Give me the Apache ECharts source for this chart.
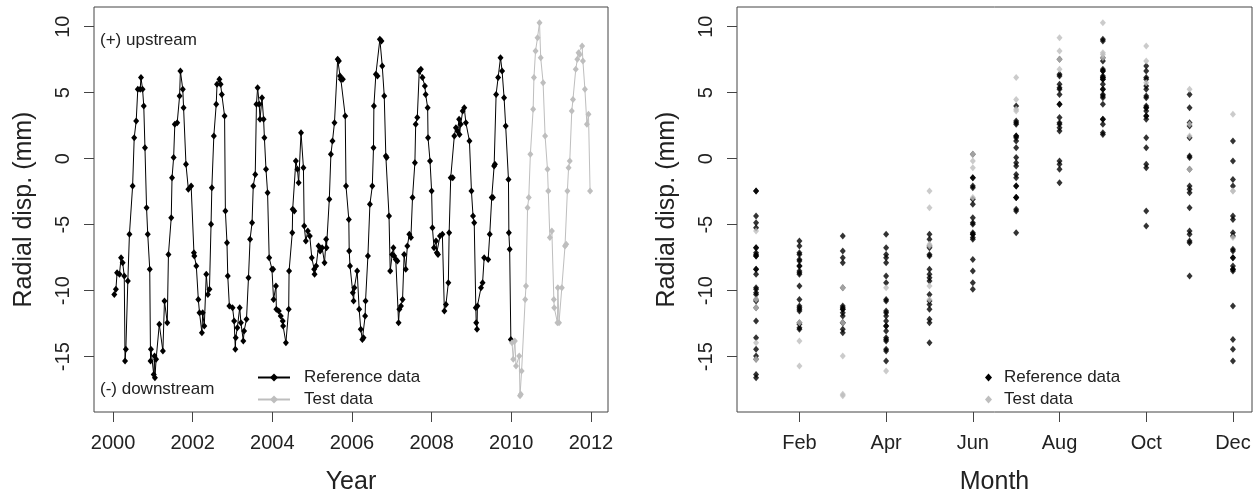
<!DOCTYPE html>
<html>
<head>
<meta charset="utf-8">
<script src="https://cdn.jsdelivr.net/npm/echarts@6/dist/echarts.min.js"></script>
<style>
  html, body { margin: 0; padding: 0; background: #fff; }
  #main { width: 1260px; height: 497px; }
</style>
</head>
<body>
<div id="main"></div>
<script>
// Reference data (2000-2010): decimal year and radial displacement (mm)
var refTime = [
  2000.03, 2000.07, 2000.10, 2000.16, 2000.20, 2000.24, 2000.28, 2000.30, 2000.32, 2000.37,
  2000.41, 2000.49, 2000.53, 2000.58, 2000.62, 2000.68, 2000.70, 2000.74, 2000.77, 2000.80,
  2000.84, 2000.87, 2000.92, 2000.94, 2000.95, 2001.02, 2001.04, 2001.05, 2001.08, 2001.16,
  2001.25, 2001.29, 2001.36, 2001.39, 2001.46, 2001.48, 2001.52, 2001.55, 2001.61, 2001.67,
  2001.69, 2001.75, 2001.77, 2001.83, 2001.89, 2001.96, 2002.03, 2002.04, 2002.09, 2002.14,
  2002.17, 2002.23, 2002.25, 2002.29, 2002.34, 2002.38, 2002.42, 2002.46, 2002.48, 2002.53,
  2002.59, 2002.61, 2002.67, 2002.70, 2002.73, 2002.80, 2002.82, 2002.86, 2002.88, 2002.92,
  2003.00, 2003.04, 2003.07, 2003.08, 2003.12, 2003.18, 2003.21, 2003.27, 2003.29, 2003.35,
  2003.40, 2003.44, 2003.49, 2003.52, 2003.57, 2003.60, 2003.63, 2003.67, 2003.69, 2003.74,
  2003.78, 2003.80, 2003.84, 2003.88, 2003.92, 2003.99, 2004.02, 2004.03, 2004.09, 2004.10,
  2004.16, 2004.21, 2004.26, 2004.27, 2004.34, 2004.41, 2004.42, 2004.50, 2004.51, 2004.55,
  2004.59, 2004.63, 2004.66, 2004.72, 2004.78, 2004.80, 2004.84, 2004.89, 2004.94, 2004.99,
  2005.05, 2005.06, 2005.10, 2005.16, 2005.20, 2005.25, 2005.31, 2005.35, 2005.36, 2005.43,
  2005.47, 2005.51, 2005.56, 2005.64, 2005.67, 2005.70, 2005.72, 2005.77, 2005.83, 2005.85,
  2005.92, 2005.93, 2005.95, 2006.02, 2006.04, 2006.06, 2006.13, 2006.18, 2006.22, 2006.26,
  2006.29, 2006.33, 2006.34, 2006.40, 2006.45, 2006.51, 2006.54, 2006.55, 2006.60, 2006.64,
  2006.70, 2006.74, 2006.76, 2006.81, 2006.85, 2006.87, 2006.93, 2006.96, 2007.01, 2007.04,
  2007.06, 2007.10, 2007.14, 2007.17, 2007.19, 2007.23, 2007.27, 2007.31, 2007.35, 2007.39,
  2007.44, 2007.48, 2007.52, 2007.58, 2007.60, 2007.64, 2007.69, 2007.73, 2007.77, 2007.83,
  2007.85, 2007.90, 2007.91, 2007.96, 2008.00, 2008.02, 2008.06, 2008.11, 2008.13, 2008.16,
  2008.21, 2008.27, 2008.32, 2008.36, 2008.42, 2008.44, 2008.48, 2008.53, 2008.57, 2008.61,
  2008.65, 2008.69, 2008.70, 2008.73, 2008.78, 2008.82, 2008.86, 2008.95, 2009.00, 2009.04,
  2009.07, 2009.11, 2009.12, 2009.14, 2009.15, 2009.24, 2009.28, 2009.32, 2009.42, 2009.46,
  2009.51, 2009.54, 2009.57, 2009.59, 2009.62, 2009.67, 2009.73, 2009.77, 2009.82, 2009.86,
  2009.93, 2009.94, 2009.96, 2009.99
];
var refDisp = [
  -10.28, -9.90, -8.64, -8.76, -7.50, -7.88, -8.89, -15.33, -14.44, -9.27,
  -5.73, -2.07, 1.59, 2.85, 5.25, 5.25, 6.14, 5.25, 3.99, 0.83,
  -3.71, -5.73, -8.38, -15.33, -14.44, -16.34, -14.95, -16.59, -15.20, -12.55,
  -14.57, -10.78, -12.42, -7.25, -4.47, -1.44, 0.08, 2.60, 2.73, 4.75,
  6.64, 5.25, 3.86, -0.43, -2.32, -2.07, -7.12, -7.37, -8.13, -10.66,
  -11.67, -13.18, -11.67, -12.68, -8.76, -10.28, -9.90, -4.97, -2.20, 1.72,
  4.12, 5.63, 6.01, 5.63, 4.87, 3.23, -3.96, -6.36, -8.89, -11.16,
  -11.29, -12.30, -14.44, -13.56, -12.80, -11.29, -12.42, -13.81, -13.06, -12.17,
  -9.02, -6.11, -4.85, -2.07, -1.19, 4.12, 5.38, 4.12, 2.98, 4.62,
  2.98, 1.59, -0.81, -2.58, -7.50, -8.38, -8.38, -10.66, -9.65, -11.41,
  -11.54, -11.92, -12.30, -12.68, -13.94, -11.41, -8.51, -5.61, -3.84, -3.96,
  -0.18, -0.81, -1.82, 1.97, -0.68, -5.10, -6.24, -5.48, -5.86, -7.50,
  -8.38, -8.76, -8.13, -6.62, -6.99, -6.74, -7.88, -6.11, -6.74, -3.08,
  0.33, 1.34, 2.73, 7.53, 7.40, 6.26, 6.01, 6.01, 3.23, -2.07,
  -4.60, -6.99, -8.13, -10.15, -10.78, -9.77, -8.51, -11.41, -12.93, -13.69,
  -13.56, -11.92, -10.78, -7.37, -3.46, -2.07, 0.83, 3.99, 6.39, 6.26,
  9.04, 8.91, 7.02, 4.75, 0.20, 0.08, -4.34, -8.51, -7.25, -6.74,
  -7.37, -7.63, -7.75, -12.42, -11.41, -11.16, -10.66, -7.25, -8.38, -6.62,
  -5.73, -5.98, -2.95, -0.30, 2.60, 3.11, 6.64, 6.77, 6.14, 5.51,
  4.87, 3.86, 1.59, -0.18, -2.45, -5.23, -6.74, -6.24, -7.12, -7.25,
  -5.86, -5.73, -11.54, -11.04, -9.39, -5.61, -1.44, -1.44, 1.72, 2.35,
  2.10, 2.98, 1.84, 2.60, 3.61, 3.86, 2.73, 1.34, -2.45, -4.34,
  -4.85, -11.29, -12.42, -12.93, -11.16, -9.77, -9.39, -7.50, -7.63, -5.73,
  -2.95, -2.95, -0.56, -0.43, 4.87, 6.14, 7.65, 6.64, 4.62, 2.47,
  -1.57, -5.61, -6.87, -13.69
];

// Test data (2010-2012)
var testTime = [
  2010.02, 2010.05, 2010.09, 2010.12, 2010.20, 2010.22, 2010.24, 2010.26, 2010.35, 2010.37,
  2010.41, 2010.44, 2010.48, 2010.55, 2010.57, 2010.61, 2010.66, 2010.71, 2010.74, 2010.80,
  2010.85, 2010.91, 2010.93, 2010.97, 2011.02, 2011.07, 2011.08, 2011.16, 2011.17, 2011.20,
  2011.27, 2011.35, 2011.38, 2011.41, 2011.44, 2011.47, 2011.52, 2011.55, 2011.62, 2011.66,
  2011.69, 2011.72, 2011.78, 2011.80, 2011.85, 2011.90, 2011.94, 2011.98
];
var testDisp = [
  -13.94, -15.20, -13.81, -15.71, -14.95, -17.95, -17.85, -16.09, -10.66, -9.65,
  -3.71, -2.95, 0.33, 3.74, 6.14, 8.16, 9.17, 10.30, 7.65, 5.76,
  1.72, -0.81, -2.45, -5.98, -5.48, -10.66, -11.29, -12.42, -9.77, -12.42,
  -9.77, -6.62, -6.49, -2.45, -0.68, -0.18, 3.61, 4.49, 6.77, 7.53,
  8.03, 7.90, 8.54, 7.40, 5.25, 2.60, 3.36, -2.45
];

var yearTicks = [2000, 2002, 2004, 2006, 2008, 2010, 2012];
var monthTicks = [2, 4, 6, 8, 10, 12];
var monthNames = ['Jan', 'Feb', 'Mar', 'Apr', 'May', 'Jun', 'Jul', 'Aug', 'Sep', 'Oct', 'Nov', 'Dec'];
var dispTicks = [-15, -10, -5, 0, 5, 10];

var FONT = 'Liberation Sans';
var INK = '#222';
var BOX = '#444';
var GREY = '#bebebe';

/**
 * @name byYear
 * @desc pair decimal years with displacement values
 */
function byYear(times, values) {
  var i, out = [];
  for (i = 0; i < times.length; i++) {
    out.push([times[i], values[i]]);
  }
  return out;
}

/**
 * @name byMonth
 * @desc put every observation on its calendar month (1..12)
 */
function byMonth(times, values) {
  var i, frac, out = [];
  for (i = 0; i < times.length; i++) {
    frac = times[i] - Math.floor(times[i]);
    out.push([Math.floor(frac * 12 + 1e-9) + 1, values[i]]);
  }
  return out;
}

function xAxisFor(grid, min, max, ticks, fmt, name) {
  return {
    gridIndex: grid, type: 'value', min: min, max: max,
    axisLine: { show: false, onZero: false },
    splitLine: { show: false },
    axisTick: { show: true, length: 10, customValues: ticks, lineStyle: { color: BOX, width: 1 } },
    axisLabel: { customValues: ticks, formatter: fmt, fontSize: 20, color: INK, fontFamily: FONT, margin: 21 },
    name: name, nameLocation: 'middle', nameGap: 58,
    nameTextStyle: { fontSize: 25, color: INK, fontFamily: FONT }
  };
}

function yAxisFor(grid) {
  return {
    gridIndex: grid, type: 'value', min: -19.19, max: 11.49,
    axisLine: { show: false, onZero: false },
    splitLine: { show: false },
    axisTick: { show: true, length: 10, customValues: dispTicks, lineStyle: { color: BOX, width: 1 } },
    axisLabel: { customValues: dispTicks, rotate: 90, fontSize: 20, color: INK, fontFamily: FONT, margin: 21 },
    name: 'Radial disp. (mm)', nameLocation: 'middle', nameGap: 57,
    nameTextStyle: { fontSize: 25, color: INK, fontFamily: FONT }
  };
}

var myChart = echarts.init(document.getElementById('main'), null, { renderer: 'canvas' });

var option = {
  animation: false,
  backgroundColor: '#fff',
  grid: [
    { left: 94, top: 7, width: 514, height: 405, show: true, borderColor: BOX, borderWidth: 1,
      backgroundColor: 'transparent', outerBoundsMode: 'none' },
    { left: 737, top: 7, width: 515, height: 405, show: true, borderColor: BOX, borderWidth: 1,
      backgroundColor: 'transparent', outerBoundsMode: 'none' }
  ],
  xAxis: [
    xAxisFor(0, 1999.52, 2012.43, yearTicks, function (v) { return String(v); }, 'Year'),
    xAxisFor(1, 0.56, 12.44, monthTicks, function (v) { return monthNames[v - 1]; }, 'Month')
  ],
  yAxis: [yAxisFor(0), yAxisFor(1)],
  legend: [
    {
      data: ['Reference data', 'Test data'],
      orient: 'vertical', left: 257, top: 369, padding: 0,
      itemWidth: 32, itemHeight: 10, itemGap: 5,
      selectedMode: false,
      textStyle: { fontSize: 17, color: INK, fontFamily: FONT, padding: [0, 0, 0, 9] }
    },
    {
      data: [{ name: 'Reference data', icon: 'diamond' }, { name: 'Test data', icon: 'diamond' }],
      orient: 'vertical', left: 985, top: 369, padding: 0,
      itemWidth: 7, itemHeight: 8, itemGap: 5,
      selectedMode: false,
      textStyle: { fontSize: 17, color: INK, fontFamily: FONT, padding: [0, 0, 0, 7] }
    }
  ],
  graphic: [
    { type: 'text', left: 100, top: 32, style: { text: '(+) upstream', font: '17px "Liberation Sans"', fill: INK } },
    { type: 'text', left: 100, top: 381, style: { text: '(-) downstream', font: '17px "Liberation Sans"', fill: INK } }
  ],
  series: [
    {
      name: 'Reference data', type: 'line', xAxisIndex: 0, yAxisIndex: 0,
      data: byYear(refTime, refDisp),
      symbol: 'diamond', symbolSize: [6, 7], showSymbol: true, showAllSymbol: true,
      itemStyle: { color: '#000' }, lineStyle: { color: '#000', width: 1 }
    },
    {
      name: 'Test data', type: 'line', xAxisIndex: 0, yAxisIndex: 0,
      data: byYear(testTime, testDisp),
      symbol: 'diamond', symbolSize: [6, 7], showSymbol: true, showAllSymbol: true,
      itemStyle: { color: GREY }, lineStyle: { color: GREY, width: 1 }
    },
    {
      name: 'Reference data', type: 'scatter', xAxisIndex: 1, yAxisIndex: 1,
      data: byMonth(refTime, refDisp),
      symbol: 'diamond', symbolSize: [6, 7],
      itemStyle: { color: '#000' }
    },
    {
      name: 'Test data', type: 'scatter', xAxisIndex: 1, yAxisIndex: 1,
      data: byMonth(testTime, testDisp),
      symbol: 'diamond', symbolSize: [6, 7],
      itemStyle: { color: GREY }
    }
  ]
};

myChart.setOption(option);
</script>
</body>
</html>
